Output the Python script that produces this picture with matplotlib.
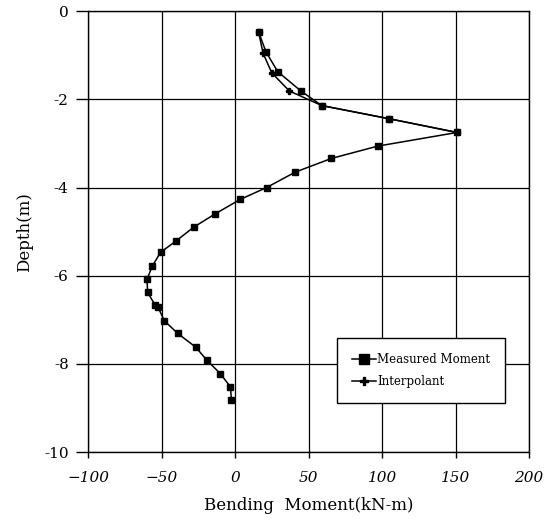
import matplotlib
matplotlib.use("Agg")
import matplotlib.pyplot as plt

measured_moment = [16, 21, 29, 44.8, 59, 105, 151, 97, 65.5, 40.9, 21.4, 3.4, -13.7, -28.2,
                   -40.1, -50.7, -56.3, -59.9, -59.5, -54.5, -52.3, -48.2, -39.0, -26.8,
                   -19.1, -10.1, -3.2, -2.5]
measured_depth = [-0.47, -0.92, -1.37, -1.81, -2.14, -2.44, -2.75, -3.06, -3.34, -3.65, -4.0,
                  -4.27, -4.6, -4.9, -5.21, -5.47, -5.78, -6.08, -6.38, -6.66, -6.72, -7.02,
                  -7.31, -7.62, -7.92, -8.22, -8.52, -8.81]
interp_moment = [16, 19, 25, 37, 59, 105, 151]
interp_depth = [-0.47, -0.95, -1.4, -1.81, -2.14, -2.44, -2.75]

xticks = [-100, -50, 0, 50, 100, 150, 200]
yticks = [0, -2, -4, -6, -8, -10]

plt.rcParams['font.family'] = ['DejaVu Serif']

fig = plt.figure(figsize=(5.54, 5.21), dpi=100)
ax = fig.add_axes([0.159, 0.1324, 0.796, 0.846])

ax.plot(measured_moment, measured_depth, color='black', lw=1.1, marker='s', ms=4.8,
        label='Measured Moment', zorder=3)
ax.plot(interp_moment, interp_depth, color='black', lw=1.1, marker='P', ms=4.6,
        label='Interpolant', zorder=2.5)

ax.set_xlim(-100, 200)
ax.set_ylim(-10, 0)
ax.set_xticks(xticks)
ax.set_xticklabels([str(v).replace('-', '\u2212') for v in xticks], fontstyle='italic', fontsize=11)
ax.set_yticks(yticks)
ax.set_yticklabels([str(v) for v in yticks], fontsize=11)
ax.grid(True, color='black', lw=0.9)
for s in ax.spines.values():
    s.set_linewidth(1.0)
ax.tick_params(axis='y', direction='out', length=9, width=1.0, pad=5)
ax.tick_params(axis='x', direction='out', length=4, width=1.0, pad=10)

ax.set_xlabel('Bending  Moment(kN-m)', fontsize=12, labelpad=8)
ax.set_ylabel('Depth(m)', fontsize=12, labelpad=8)

leg = ax.legend(loc='lower right', bbox_to_anchor=(0.946, 0.111), fontsize=8.5,
                frameon=True, fancybox=False, edgecolor='black', framealpha=1,
                handlelength=2.0, handletextpad=0.1, borderpad=1.3, labelspacing=0.7,
                markerscale=1.4, borderaxespad=0)
leg.get_frame().set_linewidth(1.0)

fig.savefig('out.png', dpi=100)
